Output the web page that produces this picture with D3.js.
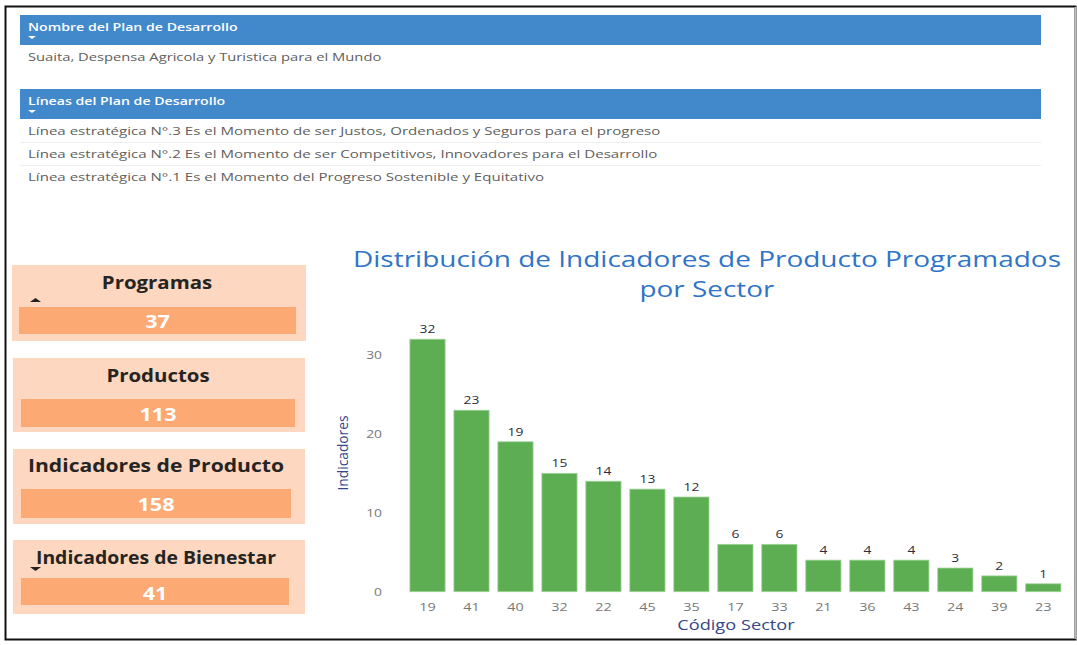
<!DOCTYPE html>
<html><head><meta charset="utf-8">
<script src="https://cdn.jsdelivr.net/npm/d3@7"></script>
<style>
html,body{margin:0;padding:0;background:#fff;}
svg{display:block;font-family:"Open Sans","Noto Sans",sans-serif;}
</style></head>
<body>
<svg id="c" width="1077" height="645"></svg>
<script>
// ---- data ----
const planHeader = "Nombre del Plan de Desarrollo";
const planName = "Suaita, Despensa Agricola y Turistica para el Mundo";
const linesHeader = "Líneas del Plan de Desarrollo";
const lineItems = [
  "Línea estratégica N°.3 Es el Momento de ser Justos, Ordenados y Seguros para el progreso",
  "Línea estratégica N°.2 Es el Momento de ser Competitivos, Innovadores para el Desarrollo",
  "Línea estratégica N°.1 Es el Momento del Progreso Sostenible y Equitativo"
];
const cardTitles = ["Programas", "Productos", "Indicadores de Producto", "Indicadores de Bienestar"];
const cardValues = [37, 113, 158, 41];
const sectors = ["19","41","40","32","22","45","35","17","33","21","36","43","24","39","23"];
const indicators = [32,23,19,15,14,13,12,6,6,4,4,4,3,2,1];
const yTicks = [0,10,20,30];
const chartTitle = ["Distribución de Indicadores de Producto Programados", "por Sector"];
const xTitle = "Código Sector";
const yTitle = "Indicadores";

const svg = d3.select("#c");

// horizontally widen glyphs (reference rendering is wider than the available fonts)
function stretch(sel, f){
  sel.each(function(){
    const L = this.getComputedTextLength();
    d3.select(this).attr("textLength", L*f).attr("lengthAdjust","spacingAndGlyphs");
  });
  return sel;
}

// frame
svg.append("rect").attr("x",5.5).attr("y",6.5).attr("width",1070).attr("height",633)
  .attr("fill","none").attr("stroke","#111").attr("stroke-width",2);
svg.append("line").attr("x1",1075.5).attr("x2",1075.5).attr("y1",7).attr("y2",639)
  .attr("stroke","#bbb").attr("stroke-width",2);

// headers
const blue = "#4289CC";
function header(y, text){
  svg.append("rect").attr("x",20).attr("y",y).attr("width",1021).attr("height",30).attr("fill",blue);
  stretch(svg.append("text").attr("x",28).attr("y",y+16).attr("fill","#fff").attr("font-size",11.5)
    .attr("font-weight",600).text(text), 1.23);
  svg.append("path").attr("d",`M${28},${y+21} L${36},${y+21} L${32},${y+24} Z`).attr("fill","#fff");
}
header(15, planHeader);
stretch(svg.append("text").attr("x",28).attr("y",61).attr("fill","#605E5C").attr("font-size",11.5).text(planName), 1.28);
header(89, linesHeader);
lineItems.forEach((t,i)=>{
  const cy = 131 + i*23;
  stretch(svg.append("text").attr("x",28).attr("y",cy+4).attr("fill","#605E5C").attr("font-size",11.5).text(t), 1.31);
  if(i<lineItems.length-1)
    svg.append("line").attr("x1",20).attr("x2",1041).attr("y1",cy+11.5).attr("y2",cy+11.5)
      .attr("stroke","#eee");
});

// cards
const cardGeo = [
  {x:12,y:265,w:294,h:76, vx:19,vy:307,vw:277,vh:27, ty:283, vty:322, tx:157, f:1.2},
  {x:13,y:358,w:292,h:74, vx:21,vy:399,vw:274,vh:28, ty:376, vty:415, tx:158, f:1.2},
  {x:13,y:449,w:292,h:75, vx:21,vy:489,vw:270,vh:29, ty:466, vty:505, tx:156, f:1.24},
  {x:13,y:540,w:292,h:74, vx:21,vy:578,vw:268,vh:27, ty:558, vty:594, tx:156, f:1.14}
];
cardTitles.forEach((t,i)=>{
  const g = cardGeo[i];
  svg.append("rect").attr("x",g.x).attr("y",g.y).attr("width",g.w).attr("height",g.h).attr("fill","#FDD7BF");
  svg.append("rect").attr("x",g.vx).attr("y",g.vy).attr("width",g.vw).attr("height",g.vh).attr("fill","#FCA973");
  stretch(svg.append("text").attr("x",g.tx).attr("y",g.ty).attr("dy","0.35em").attr("text-anchor","middle")
    .attr("font-size",17).attr("font-weight",700).attr("fill","#252423").text(t), g.f);
  stretch(svg.append("text").attr("x",(g.vx+g.vx+g.vw)/2).attr("y",g.vty).attr("dy","0.35em").attr("text-anchor","middle")
    .attr("font-size",18).attr("font-weight",700).attr("fill","#fff").text(cardValues[i]), 1.2);
});
// small arrows on cards
svg.append("path").attr("d","M30,302 L41,302 L35.5,298 Z").attr("fill","#222");
svg.append("path").attr("d","M30,567 L41,567 L35.5,571 Z").attr("fill","#222");

// chart
const x = d3.scaleBand().domain(sectors).range([405.5,1065.3]).paddingInner(0.2).paddingOuter(0.1);
const y = d3.scaleLinear().domain([0,30]).range([591.7,355]);

const titleWidths = [708, 135];
chartTitle.forEach((t,i)=>{
  svg.append("text").attr("text-anchor","middle").attr("fill","#2F74C7").attr("font-size",21.5)
    .attr("x",707).attr("y",259+i*30).attr("dy","0.35em")
    .attr("textLength",titleWidths[i]).attr("lengthAdjust","spacingAndGlyphs").text(t);
});

const plot = svg.append("g");
plot.selectAll("rect.bar").data(indicators).join("rect").attr("class","bar")
  .attr("x",(d,i)=>x(sectors[i])).attr("width",x.bandwidth())
  .attr("y",d=>y(d)).attr("height",d=>y(0)-y(d))
  .attr("fill","#5DAD53").attr("stroke","#9ED498").attr("stroke-width",0.8);
stretch(plot.selectAll("text.lbl").data(indicators).join("text").attr("class","lbl")
  .attr("x",(d,i)=>x(sectors[i])+x.bandwidth()/2).attr("y",d=>y(d)-6)
  .attr("text-anchor","middle").attr("font-size",11.5).attr("fill","#2b2b3b").text(d=>d), 1.2);

// axes
const xa = svg.append("g").attr("transform",`translate(0,${y(0)})`)
  .call(d3.axisBottom(x).tickSize(0).tickPadding(11));
xa.select(".domain").remove();
stretch(xa.selectAll("text").attr("font-size",11.5).attr("fill","#777").attr("font-family","Open Sans"), 1.25);
const ya = svg.append("g").attr("transform","translate(382,0)")
  .call(d3.axisLeft(y).tickValues(yTicks).tickSize(0).tickPadding(0));
ya.select(".domain").remove();
stretch(ya.selectAll("text").attr("font-size",11.5).attr("fill","#777").attr("font-family","Open Sans"), 1.2);

stretch(svg.append("text").attr("x",736).attr("y",625).attr("dy","0.35em").attr("text-anchor","middle")
  .attr("font-size",14).attr("fill","#34468a").text(xTitle), 1.3);
svg.append("text").attr("transform","translate(343,453) rotate(-90)").attr("dy","0.35em")
  .attr("text-anchor","middle").attr("font-size",14).attr("fill","#34468a")
  .attr("textLength",75).attr("lengthAdjust","spacingAndGlyphs").text(yTitle);
</script>
</body></html>
